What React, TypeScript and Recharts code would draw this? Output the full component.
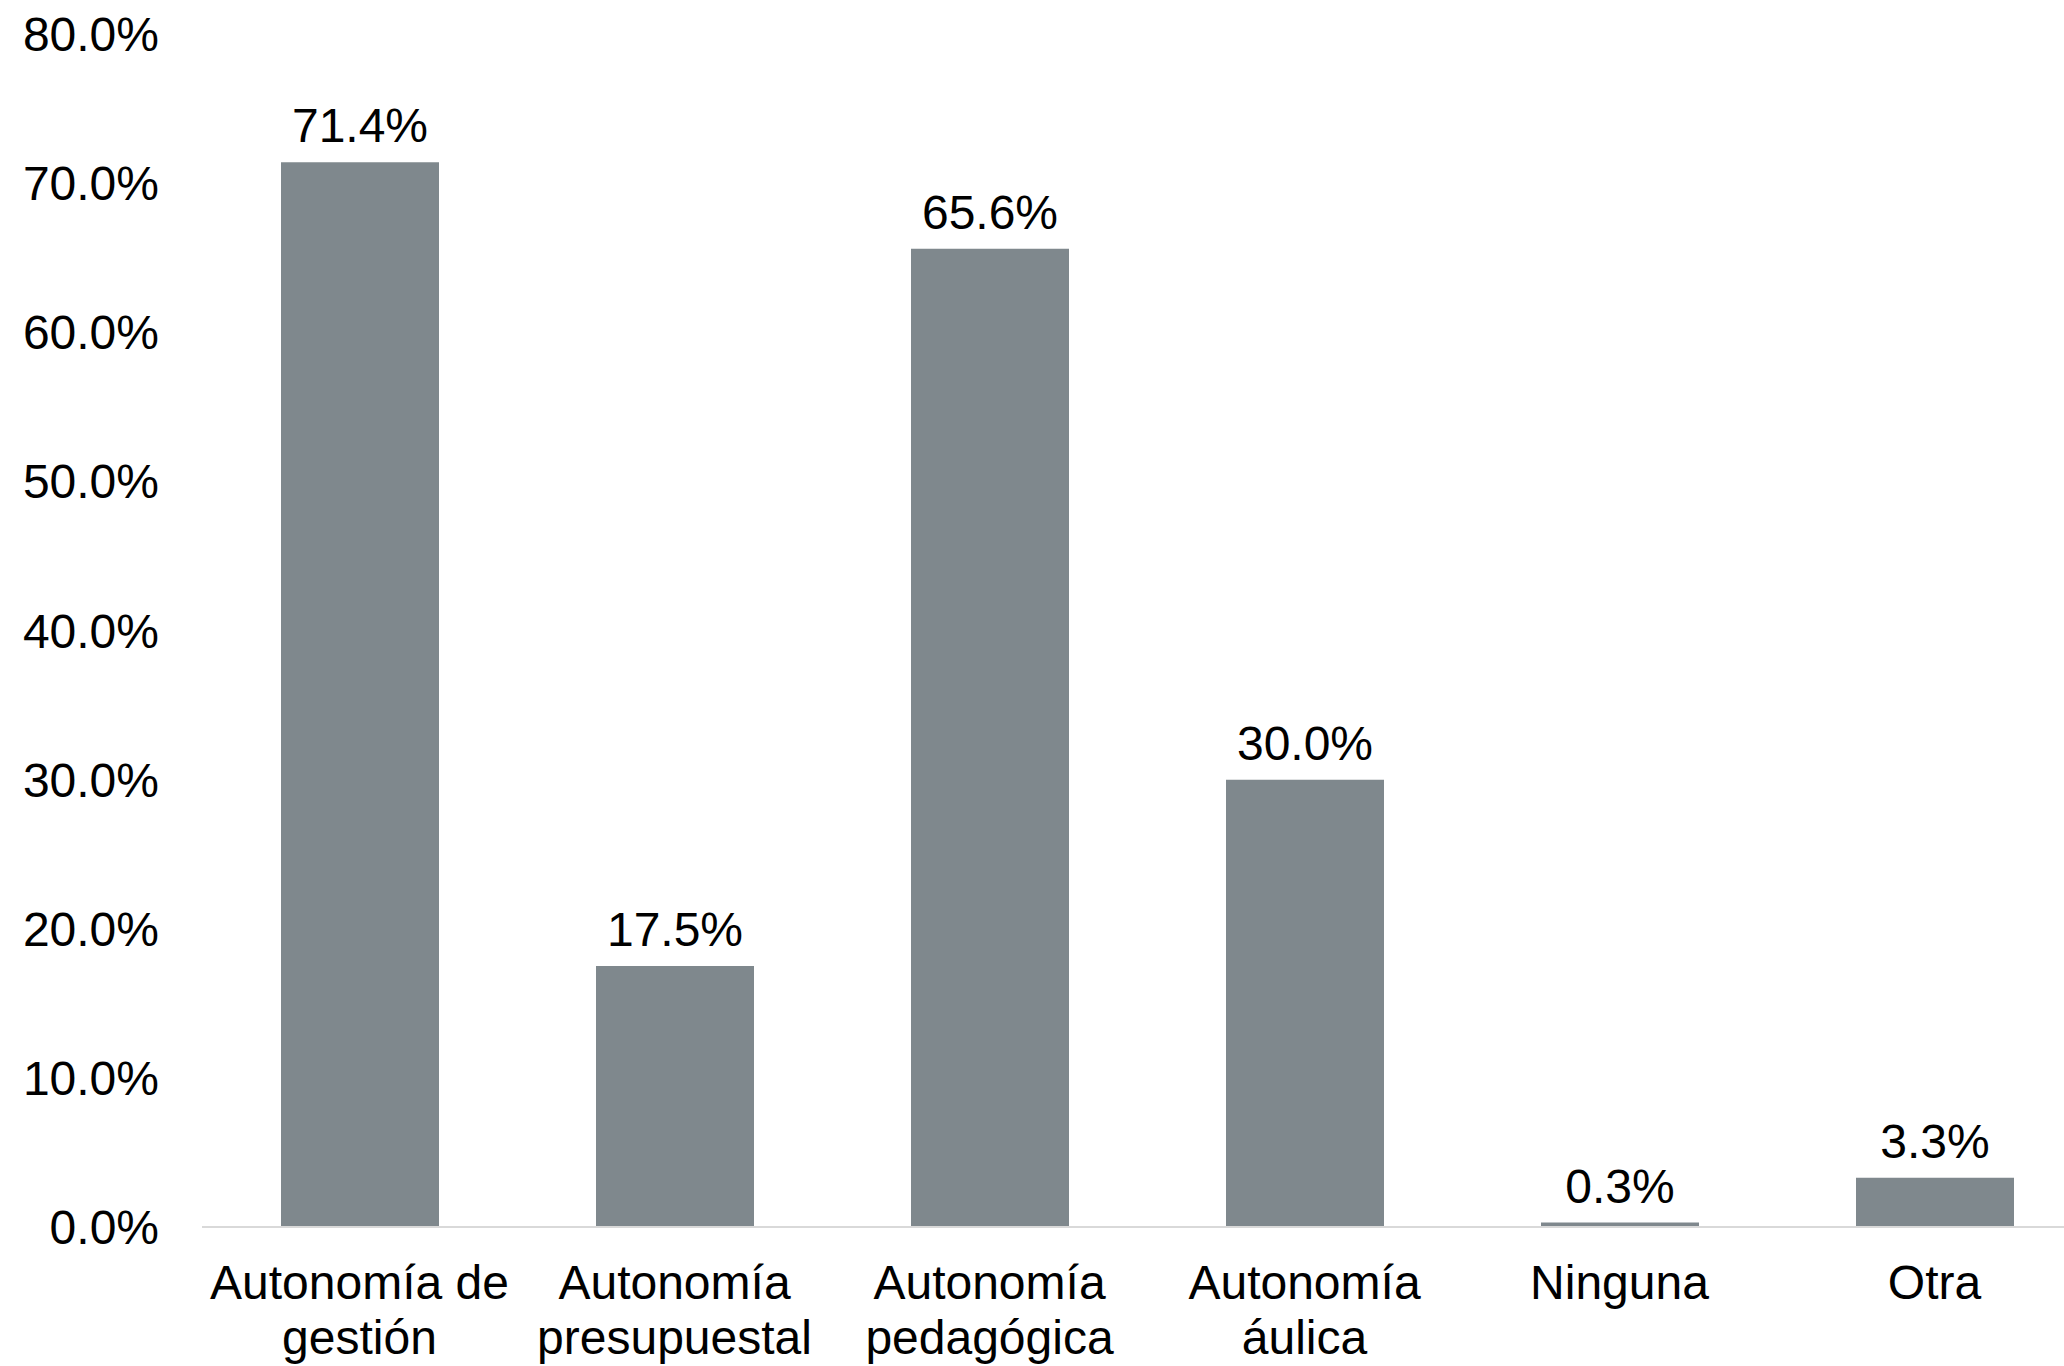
import { Bar, BarChart, LabelList, XAxis, YAxis } from "recharts";

const categories = [
  "Autonomía de gestión",
  "Autonomía presupuestal",
  "Autonomía pedagógica",
  "Autonomía áulica",
  "Ninguna",
  "Otra",
];
const values = [71.4, 17.5, 65.6, 30.0, 0.3, 3.3];
const yTicks = [0, 10, 20, 30, 40, 50, 60, 70, 80];

const FONT = '"Liberation Sans", Arial, sans-serif';
const BAR_COLOR = "#7f888d";

const data = categories.map((name, i) => ({ name, value: values[i] }));

// last word goes on its own line, like the original wrap
function splitLabel(label: string): string[] {
  const words = label.split(" ");
  if (words.length < 2) return [label];
  return [words.slice(0, -1).join(" "), words[words.length - 1]];
}

function CategoryTick(props: any) {
  const { x, y, payload } = props;
  const lines = splitLabel(String(payload.value));
  return (
    <text
      x={x}
      y={y}
      textAnchor="middle"
      fontFamily={FONT}
      fontSize={48}
      fill="#000"
    >
      {lines.map((line, i) => (
        <tspan key={i} x={x} y={y + 64 + i * 55}>
          {line}
        </tspan>
      ))}
    </text>
  );
}

export default function App() {
  return (
    <div
      style={{
        position: "absolute",
        left: 0,
        top: 0,
        width: 2064,
        height: 1366,
        overflow: "hidden",
        background: "#fff",
      }}
    >
      <BarChart
        width={2092}
        height={1366}
        data={data}
        margin={{ top: 34, right: 0, left: 0, bottom: 0 }}
        barSize={158}
      >
        <XAxis
          dataKey="name"
          interval={0}
          height={139}
          tickLine={false}
          axisLine={{ stroke: "#d9d9d9", strokeWidth: 2 }}
          tick={<CategoryTick />}
        />
        <YAxis
          width={202}
          domain={[0, 80]}
          ticks={yTicks}
          interval={0}
          axisLine={false}
          tickLine={false}
          tickSize={0}
          tickMargin={43}
          tick={{ fontSize: 48, fontFamily: FONT, fill: "#000" }}
          tickFormatter={(v: number) => `${v.toFixed(1)}%`}
        />
        <Bar dataKey="value" fill={BAR_COLOR} isAnimationActive={false}>
          <LabelList
            dataKey="value"
            position="top"
            offset={20}
            formatter={(v: any) => `${Number(v).toFixed(1)}%`}
            style={{ fontSize: 48, fontFamily: FONT, fill: "#000" }}
          />
        </Bar>
      </BarChart>
    </div>
  );
}
